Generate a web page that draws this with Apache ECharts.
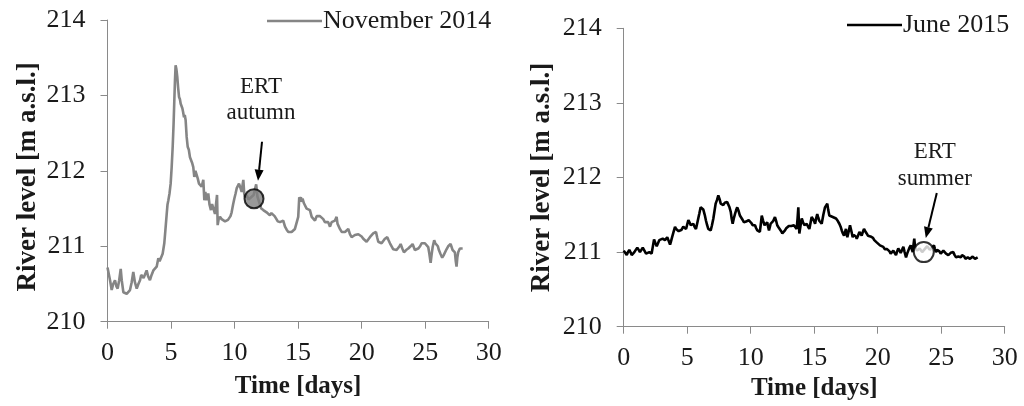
<!DOCTYPE html>
<html>
<head>
<meta charset="utf-8">
<script src="https://cdn.jsdelivr.net/npm/echarts@6/dist/echarts.min.js"></script>
<style>
  html, body { margin: 0; padding: 0; background: #fff; }
  #chart { width: 1024px; height: 406px; }
</style>
</head>
<body>
<div id="chart"></div>
<script>
// River level records, [time in days, level in m a.s.l.]
const novemberLevels = [
  [0.0,210.72],[0.07,210.70],[0.2,210.55],[0.33,210.42],[0.45,210.50],[0.59,210.55],[0.7,210.47],[0.8,210.44],
  [0.92,210.55],[1.04,210.70],[1.12,210.55],[1.25,210.39],[1.38,210.38],[1.51,210.37],[1.64,210.38],[1.77,210.42],
  [1.9,210.52],[2.03,210.66],[2.16,210.52],[2.30,210.44],[2.43,210.50],[2.56,210.55],[2.65,210.62],[2.74,210.64],
  [2.84,210.58],[2.95,210.57],[3.08,210.68],[3.2,210.60],[3.34,210.55],[3.47,210.62],[3.61,210.68],[3.74,210.70],
  [3.87,210.73],[4.0,210.84],[4.1,210.80],[4.21,210.79],[4.34,210.90],[4.47,211.04],[4.55,211.2],[4.66,211.43],
  [4.72,211.55],[4.79,211.61],[4.88,211.70],[4.97,211.83],[5.05,212.05],[5.13,212.32],[5.2,212.62],[5.26,212.94],
  [5.31,213.2],[5.36,213.40],[5.42,213.35],[5.49,213.25],[5.56,213.1],[5.63,212.98],[5.7,212.95],[5.76,212.89],
  [5.82,212.9],[5.89,212.83],[5.95,212.78],[6.02,212.71],[6.08,212.74],[6.15,212.67],[6.23,212.45],[6.31,212.32],
  [6.4,212.28],[6.49,212.18],[6.58,212.2],[6.67,212.10],[6.75,212.05],[6.83,211.92],[6.92,212.0],[7.02,212.01],
  [7.1,211.9],[7.2,211.83],[7.28,211.85],[7.41,211.79],[7.54,211.88],[7.62,211.61],[7.7,211.72],[7.80,211.61],
  [7.93,211.70],[8.03,211.55],[8.14,211.48],[8.23,211.56],[8.33,211.54],[8.46,211.43],[8.55,211.45],[8.62,211.68],
  [8.67,211.28],[8.75,211.36],[8.85,211.39],[8.98,211.36],[9.11,211.34],[9.25,211.33],[9.38,211.32],[9.48,211.35],
  [9.58,211.34],[9.68,211.40],[9.77,211.45],[9.88,211.55],[9.98,211.63],[10.08,211.70],[10.17,211.77],[10.26,211.8],
  [10.35,211.83],[10.45,211.78],[10.56,211.72],[10.62,211.8],[10.69,211.88],[10.76,211.7],[10.82,211.65],[10.95,211.68],
  [11.1,211.62],[11.3,211.65],[11.5,211.68],[11.7,211.82],[11.8,211.66],[11.95,211.58],[12.1,211.5],[12.26,211.48],
  [12.4,211.5],[12.52,211.45],[12.65,211.44],[12.78,211.41],[12.9,211.44],[13.05,211.43],[13.15,211.40],[13.26,211.37],
  [13.4,211.33],[13.57,211.32],[13.7,211.33],[13.83,211.34],[13.97,211.26],[14.1,211.22],[14.23,211.19],[14.36,211.20],
  [14.49,211.19],[14.62,211.21],[14.75,211.23],[14.89,211.25],[15.01,211.39],[15.09,211.65],[15.15,211.62],[15.22,211.65],
  [15.28,211.59],[15.35,211.63],[15.46,211.57],[15.56,211.55],[15.67,211.50],[15.8,211.49],[15.93,211.48],[16.07,211.39],
  [16.2,211.38],[16.33,211.34],[16.46,211.40],[16.59,211.41],[16.72,211.40],[16.85,211.42],[16.98,211.36],[17.11,211.32],
  [17.24,211.33],[17.37,211.32],[17.51,211.26],[17.64,211.32],[17.77,211.34],[17.9,211.34],[18.03,211.39],[18.1,211.30],
  [18.16,211.28],[18.29,211.23],[18.43,211.19],[18.55,211.20],[18.69,211.19],[18.82,211.21],[18.95,211.23],[19.08,211.16],
  [19.21,211.12],[19.34,211.14],[19.47,211.15],[19.6,211.15],[19.74,211.16],[19.87,211.17],[20.0,211.13],[20.13,211.10],
  [20.26,211.08],[20.39,211.06],[20.52,211.09],[20.65,211.12],[20.78,211.14],[20.91,211.17],[21.02,211.18],[21.13,211.19],
  [21.22,211.12],[21.31,211.06],[21.44,211.05],[21.57,211.04],[21.7,211.07],[21.83,211.10],[21.93,211.12],[22.02,211.12],
  [22.12,211.08],[22.23,211.04],[22.36,211.0],[22.49,210.96],[22.62,210.96],[22.75,210.95],[22.88,210.96],[22.98,211.0],
  [23.07,211.03],[23.2,210.97],[23.33,210.92],[23.5,210.95],[23.67,210.97],[23.85,211.0],[24.01,211.03],[24.1,210.99],
  [24.19,210.95],[24.32,210.96],[24.45,210.97],[24.6,211.0],[24.72,211.04],[24.85,211.04],[24.98,211.04],[25.1,211.02],
  [25.24,210.99],[25.33,210.9],[25.43,210.78],[25.5,210.88],[25.59,210.99],[25.71,211.08],[25.8,211.04],[25.90,211.06],
  [26.0,211.0],[26.08,210.95],[26.2,210.9],[26.34,210.85],[26.45,210.88],[26.55,210.90],[26.68,210.96],[26.81,211.0],
  [26.9,211.02],[27.0,211.03],[27.08,210.99],[27.16,210.95],[27.25,210.93],[27.34,210.92],[27.41,210.8],[27.47,210.73],
  [27.53,210.85],[27.6,210.92],[27.73,210.97],[27.85,210.96],[27.95,210.97]
];

const juneLevels = [
  [0.0,211.02],[0.12,210.99],[0.24,210.96],[0.34,211.0],[0.44,211.03],[0.53,211.0],[0.63,210.96],[0.74,210.98],
  [0.84,211.0],[0.95,211.03],[1.07,211.06],[1.18,211.03],[1.28,211.0],[1.39,211.03],[1.50,211.06],[1.63,211.02],
  [1.76,210.98],[1.9,210.99],[2.02,211.0],[2.11,210.99],[2.20,210.98],[2.3,211.08],[2.39,211.17],[2.5,211.12],
  [2.60,211.08],[2.7,211.12],[2.80,211.16],[2.93,211.17],[3.07,211.18],[3.16,211.17],[3.25,211.16],[3.34,211.18],
  [3.43,211.20],[3.54,211.15],[3.65,211.10],[3.72,211.14],[3.78,211.18],[3.91,211.26],[4.04,211.34],[4.13,211.31],
  [4.22,211.29],[4.33,211.28],[4.43,211.27],[4.56,211.30],[4.69,211.34],[4.8,211.32],[4.91,211.31],[5.0,211.37],
  [5.09,211.43],[5.18,211.40],[5.28,211.36],[5.38,211.37],[5.48,211.38],[5.58,211.34],[5.69,211.31],[5.78,211.38],
  [5.87,211.45],[5.96,211.52],[6.06,211.60],[6.17,211.58],[6.27,211.57],[6.38,211.50],[6.48,211.42],[6.57,211.36],
  [6.66,211.31],[6.76,211.30],[6.85,211.29],[6.95,211.36],[7.06,211.45],[7.15,211.55],[7.24,211.65],[7.35,211.70],
  [7.45,211.76],[7.55,211.71],[7.64,211.65],[7.74,211.64],[7.84,211.63],[7.95,211.66],[8.06,211.68],[8.15,211.67],
  [8.24,211.65],[8.33,211.60],[8.43,211.54],[8.5,211.45],[8.58,211.38],[8.67,211.45],[8.76,211.51],[8.85,211.56],
  [8.94,211.60],[9.05,211.55],[9.15,211.49],[9.26,211.46],[9.37,211.43],[9.46,211.40],[9.55,211.38],[9.64,211.41],
  [9.73,211.43],[9.84,211.43],[9.94,211.42],[10.05,211.39],[10.16,211.36],[10.25,211.37],[10.34,211.36],[10.43,211.32],
  [10.52,211.29],[10.62,211.28],[10.72,211.27],[10.8,211.38],[10.87,211.49],[10.98,211.42],[11.09,211.36],[11.2,211.38],
  [11.30,211.40],[11.37,211.34],[11.44,211.29],[11.5,211.33],[11.57,211.38],[11.68,211.40],[11.78,211.42],[11.91,211.47],
  [12.0,211.42],[12.09,211.36],[12.2,211.33],[12.31,211.31],[12.4,211.28],[12.49,211.25],[12.6,211.27],[12.70,211.29],
  [12.8,211.32],[12.89,211.34],[13.0,211.35],[13.10,211.36],[13.2,211.35],[13.31,211.34],[13.4,211.36],[13.49,211.38],
  [13.55,211.34],[13.62,211.31],[13.69,211.45],[13.75,211.60],[13.79,211.42],[13.83,211.25],[13.92,211.35],[14.02,211.45],
  [14.12,211.40],[14.23,211.36],[14.32,211.37],[14.41,211.38],[14.52,211.34],[14.62,211.31],[14.71,211.39],[14.80,211.47],
  [14.88,211.47],[14.98,211.42],[15.07,211.38],[15.15,211.45],[15.24,211.51],[15.32,211.46],[15.40,211.42],[15.5,211.40],
  [15.59,211.38],[15.72,211.50],[15.85,211.60],[16.03,211.65],[16.1,211.57],[16.19,211.49],[16.32,211.48],[16.46,211.47],
  [16.6,211.46],[16.72,211.45],[16.85,211.42],[16.98,211.38],[17.08,211.34],[17.17,211.29],[17.26,211.25],[17.35,211.22],
  [17.43,211.27],[17.50,211.31],[17.55,211.25],[17.61,211.20],[17.72,211.28],[17.82,211.36],[17.93,211.28],[18.03,211.20],
  [18.12,211.23],[18.21,211.25],[18.28,211.21],[18.35,211.18],[18.45,211.22],[18.56,211.27],[18.65,211.25],[18.74,211.22],
  [18.83,211.27],[18.92,211.31],[19.02,211.28],[19.13,211.25],[19.23,211.22],[19.34,211.20],[19.43,211.21],[19.53,211.22],
  [19.63,211.19],[19.73,211.16],[19.83,211.14],[19.92,211.13],[20.05,211.11],[20.18,211.09],[20.31,211.08],[20.44,211.07],
  [20.55,211.04],[20.65,211.02],[20.74,211.04],[20.83,211.05],[20.93,211.01],[21.02,210.98],[21.12,211.0],[21.23,211.02],
  [21.33,210.99],[21.44,210.96],[21.53,211.01],[21.62,211.05],[21.72,211.02],[21.81,210.99],[21.92,211.03],[22.02,211.07],
  [22.12,211.0],[22.23,210.93],[22.32,210.98],[22.41,211.02],[22.5,211.06],[22.60,211.09],[22.68,211.04],[22.76,211.0],
  [22.82,211.1],[22.88,211.18],[22.95,211.06],[23.1,211.02],[23.3,211.05],[23.5,211.0],[23.7,211.04],[23.9,211.08],
  [24.1,211.03],[24.28,211.06],[24.43,211.09],[24.51,211.04],[24.59,211.0],[24.68,211.03],[24.77,211.05],[24.86,211.01],
  [24.96,210.98],[25.06,211.0],[25.17,211.02],[25.27,211.0],[25.38,210.98],[25.47,210.97],[25.56,210.96],[25.65,210.98],
  [25.75,210.99],[25.85,211.0],[25.95,211.0],[26.06,210.96],[26.17,210.93],[26.26,210.94],[26.35,210.94],[26.45,210.94],
  [26.54,210.93],[26.64,210.96],[26.74,210.98],[26.82,210.94],[26.90,210.91],[27.0,210.92],[27.09,210.93],[27.18,210.92],
  [27.27,210.91],[27.38,210.93],[27.48,210.94],[27.57,210.92],[27.66,210.91],[27.77,210.92],[27.87,210.93]
];

// ERT survey dates and river level at that time
const ertAutumn = [11.53, 211.63];
const ertSummer = [23.63, 211.0];

const seriesNames = ['November 2014', 'June 2015'];
const ertLabels = [['ERT', 'autumn'], ['ERT', 'summer']];

const timeTicks = { min: 0, max: 30, interval: 5 };
const levelTicks = { min: 210, max: 214, interval: 1 };

const SERIF = '"Liberation Serif", "Times New Roman", serif';
const INK = '#1a1a1a';
const AXIS_GREY = '#8a8a8a';

function xAxisFor(gridIndex, labelMargin, nameGap) {
  return {
    type: 'value', gridIndex,
    min: timeTicks.min, max: timeTicks.max, interval: timeTicks.interval,
    name: 'Time [days]', nameLocation: 'middle', nameGap,
    nameTextStyle: { fontFamily: SERIF, fontWeight: 'bold', fontSize: 25, color: INK },
    axisLine: { show: true, onZero: false, lineStyle: { color: AXIS_GREY, width: 1 } },
    axisTick: { show: true, inside: false, length: 7, lineStyle: { color: AXIS_GREY } },
    axisLabel: { fontFamily: SERIF, fontSize: 26, color: INK, margin: labelMargin },
    splitLine: { show: false }
  };
}

function yAxisFor(gridIndex, nameGap, namePadding) {
  return {
    type: 'value', gridIndex,
    min: levelTicks.min, max: levelTicks.max, interval: levelTicks.interval,
    name: 'River level [m a.s.l.]', nameLocation: 'middle', nameGap, nameRotate: 90,
    nameTextStyle: { fontFamily: SERIF, fontWeight: 'bold', fontSize: 27, color: INK, padding: namePadding },
    axisLine: { show: true, onZero: false, lineStyle: { color: AXIS_GREY, width: 1 } },
    axisTick: { show: true, inside: false, length: 7, lineStyle: { color: AXIS_GREY } },
    axisLabel: { fontFamily: SERIF, fontSize: 26, color: INK, margin: 22 },
    splitLine: { show: false }
  };
}

function legendFor(name, left, top) {
  return {
    data: [name], left, top, padding: 0, itemGap: 0,
    itemWidth: 55, itemHeight: 2.5, icon: 'rect',
    textStyle: { fontFamily: SERIF, fontSize: 26, color: INK, padding: [0, 0, 0, -4] },
    selectedMode: false
  };
}

const chart = echarts.init(document.getElementById('chart'), null, { renderer: 'canvas' });

chart.setOption({
  backgroundColor: '#ffffff',
  animation: false,
  grid: [
    { left: 107.5, top: 20, width: 381.2, height: 301.7, containLabel: false, outerBoundsMode: 'none' },
    { left: 623.7, top: 28.3, width: 381, height: 298.4, containLabel: false, outerBoundsMode: 'none' }
  ],
  xAxis: [xAxisFor(0, 18, 52), xAxisFor(1, 18, 48)],
  yAxis: [yAxisFor(0, 66, [0, 12, 0, 0]), yAxisFor(1, 68, [0, 0, 0, 0])],
  legend: [legendFor(seriesNames[0], 267, 8), legendFor(seriesNames[1], 847, 12)],
  series: [
    {
      name: seriesNames[0], type: 'line', xAxisIndex: 0, yAxisIndex: 0,
      data: novemberLevels, symbol: 'none', color: '#858585',
      lineStyle: { color: '#858585', width: 2.6 }, z: 2
    },
    {
      name: seriesNames[1], type: 'line', xAxisIndex: 1, yAxisIndex: 1,
      data: juneLevels, symbol: 'none', color: '#000000',
      lineStyle: { color: '#000000', width: 2.6 }, z: 2
    },
    {
      name: 'ERT autumn', type: 'scatter', xAxisIndex: 0, yAxisIndex: 0,
      data: [ertAutumn], symbol: 'circle', symbolSize: 19,
      itemStyle: { color: '#808080', borderColor: '#000000', borderWidth: 2 }, z: 5
    },
    {
      name: 'ERT summer', type: 'scatter', xAxisIndex: 1, yAxisIndex: 1,
      data: [ertSummer], symbol: 'circle', symbolSize: 20,
      itemStyle: { color: '#ffffff', borderColor: '#000000', borderWidth: 2 }, z: 5
    }
  ]
});

// Callouts: label text and an arrow pointing at each ERT marker,
// placed relative to the marker's pixel position.
function callout(point, gridIndex, lines, textDx, lineGap, textTopDy, tailD, tipD) {
  const p = chart.convertToPixel({ xAxisIndex: gridIndex, yAxisIndex: gridIndex }, point);
  const tail = [p[0] + tailD[0], p[1] + tailD[1]];
  const tip = [p[0] + tipD[0], p[1] + tipD[1]];
  const dx = tip[0] - tail[0], dy = tip[1] - tail[1];
  const len = Math.hypot(dx, dy);
  const ux = dx / len, uy = dy / len;
  const headLen = 11, headHalf = 4.5;
  const base = [tip[0] - ux * headLen, tip[1] - uy * headLen];
  const els = [
    {
      type: 'line', silent: true, z: 10,
      shape: { x1: tail[0], y1: tail[1], x2: base[0], y2: base[1] },
      style: { stroke: '#000', lineWidth: 2 }
    },
    {
      type: 'polygon', silent: true, z: 10,
      shape: { points: [tip, [base[0] - uy * headHalf, base[1] + ux * headHalf], [base[0] + uy * headHalf, base[1] - ux * headHalf]] },
      style: { fill: '#000' }
    }
  ];
  lines.forEach((t, i) => {
    els.push({
      type: 'text', silent: true, z: 10,
      x: p[0] + textDx, y: p[1] + textTopDy + i * lineGap,
      style: {
        text: t, fill: INK, font: '23px ' + SERIF,
        align: 'center', verticalAlign: 'middle',
        textAlign: 'center', textVerticalAlign: 'middle'
      }
    });
  });
  return els;
}

chart.setOption({
  graphic: [].concat(
    callout(ertAutumn, 0, ertLabels[0], 7, 26, -112, [8, -57], [4, -18]),
    callout(ertSummer, 1, ertLabels[1], 11, 27, -100, [13, -59], [2, -14])
  )
});
</script>
</body>
</html>
